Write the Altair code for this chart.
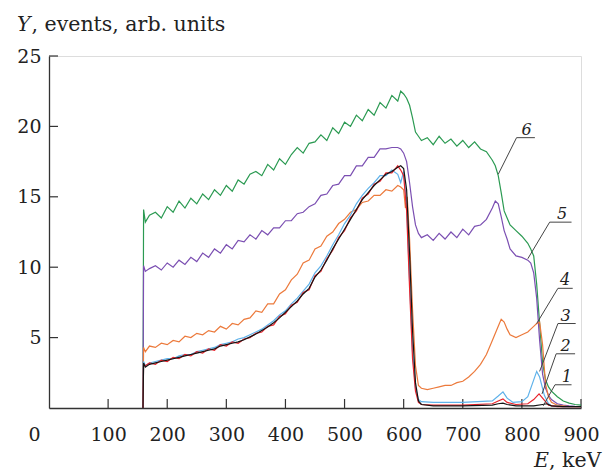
import altair as alt
import pandas as pd

# ---------------- data ----------------
E_MAIN = [159, 160, 163, 170, 180, 190, 200, 210, 220, 230, 240, 250, 260, 270, 280, 290,
          300, 310, 320, 330, 340, 350, 360, 370, 380, 390, 400, 410, 420, 430, 440, 450,
          460, 470, 480, 490, 500, 510, 520, 530, 540, 550, 560, 570, 580, 590, 595, 600]

E_TAIL_56 = [605, 610, 615, 620, 625, 630, 640, 650, 660, 670, 680, 690, 700, 710, 720, 730,
             740, 750, 755, 760, 765, 770, 775, 780, 790, 800, 810, 815, 820, 825, 830, 835,
             840, 845, 850, 860, 870, 880, 890, 900]

y6 = [0, 14.1, 13.2, 13.7, 13.9, 13.5, 14.3, 13.9, 14.7, 14.2,
      14.9, 14.5, 15.2, 14.8, 15.5, 15.1, 15.8, 15.4, 16.2, 15.9,
      16.6, 16.8, 16.5, 17.3, 16.9, 17.7, 17.3, 18.0, 18.5, 18.1,
      18.8, 18.9, 19.4, 19.0, 19.9, 19.5, 20.3, 20.0, 20.8, 20.4,
      21.2, 20.8, 21.7, 21.3, 22.2, 21.8, 22.5, 22.3,
      22.0, 21.5, 20.6, 19.6, 19.3, 19.0, 19.2, 18.7, 19.3, 18.8,
      19.1, 18.6, 19.0, 18.5, 18.9, 18.4, 18.2, 17.6, 17.2, 16.5,
      15.3, 14.0, 13.5, 13.0, 12.6, 12.2, 11.7, 11.3, 10.8, 8.8,
      6.0, 3.2, 2.0, 1.5, 1.2, 0.8, 0.5, 0.35, 0.25, 0.2]
e6 = E_MAIN + E_TAIL_56

y5 = [0, 10.1, 9.7, 9.9, 10.1, 9.8, 10.3, 10.0, 10.5, 10.2,
      10.7, 10.4, 11.0, 10.7, 11.3, 11.0, 11.6, 11.3, 11.9, 11.8,
      12.3, 12.0, 12.6, 12.3, 12.8, 12.8, 13.3, 13.3, 13.8, 13.9,
      14.3, 14.5, 15.1, 15.2, 15.8, 15.9, 16.5, 16.5, 17.2, 17.2,
      17.8, 17.8, 18.4, 18.4, 18.5, 18.5, 18.4, 18.1,
      17.5, 16.0, 14.3, 13.0, 12.4, 12.1, 12.3, 11.9, 12.4, 12.0,
      12.5, 12.1, 12.7, 12.3, 12.9, 13.0, 13.4, 14.2, 14.7, 14.5,
      13.6, 12.6, 12.0, 11.3, 10.8, 10.7, 10.5, 10.3, 9.6, 7.8,
      4.8, 2.4, 1.4, 0.9, 0.6, 0.3, 0.2, 0.15, 0.12, 0.1]
e5 = E_MAIN + E_TAIL_56

y4 = [0, 4.3, 4.0, 4.4, 4.3, 4.6, 4.5, 4.8, 4.7, 5.1,
      5.0, 5.3, 5.2, 5.5, 5.4, 5.8, 5.6, 6.0, 5.9, 6.3,
      6.4, 6.9, 6.8, 7.4, 7.4, 8.1, 8.4, 9.1, 9.5, 10.3,
      10.5, 11.3, 11.5, 12.2, 12.5, 13.1, 13.4, 13.9, 14.1, 14.6,
      14.7, 15.1, 15.1, 15.5, 15.4, 15.8, 15.7, 15.5,
      14.2, 15.0, 12.0, 7.0, 3.0, 1.6, 1.4, 1.3, 1.4, 1.5,
      1.6, 1.6, 1.8, 1.9, 2.2, 2.6, 3.1, 3.8, 4.8, 5.8,
      6.3, 6.1, 5.6, 5.2, 5.0, 5.2, 5.4, 5.6, 5.8, 6.0,
      6.1, 4.5, 1.7, 0.8, 0.4, 0.2, 0.1, 0.1]
e4 = E_MAIN + [603, 606, 610, 615, 620, 625, 630, 640, 650, 660, 670, 680, 690, 700, 710,
               720, 730, 740, 750, 760, 765, 770, 775, 780, 790, 800, 810, 815, 820, 825,
               830, 835, 840, 845, 850, 860, 880, 900]

y3 = [0, 3.3, 3.0, 3.2, 3.3, 3.4, 3.5, 3.5, 3.7, 3.8,
      3.8, 4.0, 4.1, 4.2, 4.3, 4.5, 4.6, 4.7, 4.9, 5.0,
      5.2, 5.4, 5.6, 5.9, 6.2, 6.6, 6.9, 7.4, 7.8, 8.3,
      8.8, 9.6, 10.1, 10.8, 11.6, 12.3, 13.1, 13.7, 14.5, 15.1,
      15.6, 16.0, 16.5, 16.5, 16.9, 16.6, 16.0, 16.8,
      14.5, 9.0, 4.0, 1.4, 0.6, 0.45, 0.4, 0.4, 0.5, 0.85,
      1.15, 0.7, 0.4, 0.45, 0.8, 2.0, 2.6, 2.2, 0.9, 0.3,
      0.15, 0.1, 0.1]
e3 = E_MAIN + [605, 610, 615, 620, 625, 630, 650, 700, 750, 760, 768, 775, 785, 800, 810,
               820, 825, 830, 838, 845, 850, 870, 900]

y2 = [0, 3.1, 3.0, 3.2, 3.1, 3.4, 3.3, 3.6, 3.5, 3.8,
      3.7, 4.0, 3.9, 4.2, 4.1, 4.5, 4.4, 4.7, 4.6, 4.9,
      5.0, 5.3, 5.4, 5.8, 5.9, 6.5, 6.7, 7.3, 7.5, 8.2,
      8.4, 9.4, 9.7, 10.6, 11.2, 12.1, 12.6, 13.5, 14.0, 14.9,
      15.2, 15.9, 16.1, 16.7, 16.7, 17.2, 16.9, 16.5,
      14.0, 8.5, 3.5, 1.2, 0.4, 0.25, 0.2, 0.2, 0.3, 0.5,
      0.65, 0.4, 0.25, 0.3, 0.6, 1.0, 0.7, 0.2, 0.1, 0.1]
e2 = E_MAIN + [605, 610, 615, 620, 625, 630, 650, 700, 750, 760, 768, 775, 790, 810, 820,
               829, 835, 845, 860, 900]

y1 = [0, 3.2, 2.9, 3.1, 3.2, 3.3, 3.4, 3.5, 3.6, 3.7,
      3.8, 3.9, 4.0, 4.1, 4.2, 4.4, 4.5, 4.6, 4.7, 4.85,
      5.05, 5.25, 5.5, 5.75, 6.05, 6.4, 6.8, 7.2, 7.6, 8.1,
      8.5, 9.3, 9.8, 10.5, 11.3, 12.0, 12.7, 13.4, 14.1, 14.8,
      15.3, 15.8, 16.2, 16.6, 16.8, 17.1, 17.2, 17.0,
      15.5, 11.0, 5.5, 1.8, 0.5, 0.25, 0.15, 0.15, 0.2, 0.3,
      0.35, 0.25, 0.15, 0.15, 0.25, 0.3, 0.15, 0.1, 0.1]
e1 = E_MAIN + [605, 610, 615, 620, 625, 630, 650, 700, 750, 760, 768, 775, 790, 820, 835,
               842, 850, 870, 900]

SERIES = [("6", e6, y6, "#2b9a52"), ("5", e5, y5, "#7b4fb2"), ("4", e4, y4, "#ec7a3c"),
          ("3", e3, y3, "#5fb2ea"), ("2", e2, y2, "#e8232b"), ("1", e1, y1, "#141414")]

LEADERS = {
    "6": ([760, 791, 822], [16.6, 19.2, 19.2], 808),
    "5": ([810, 847, 884], [10.6, 13.2, 13.2], 868),
    "4": ([825, 861, 886], [6.0, 8.5, 8.5], 873),
    "3": ([830, 861, 891], [2.6, 6.0, 6.0], 874),
    "2": ([834, 858, 890], [1.0, 3.85, 3.85], 874),
    "1": ([836, 856, 884], [0.15, 1.65, 1.65], 876),
}

X_TICKS = [0, 100, 200, 300, 400, 500, 600, 700, 800, 900]
Y_TICKS = [5, 10, 15, 20, 25]

W, H = 532, 352
FONT = "DejaVu Serif"
TICK_FS = 19
TITLE_FS = 20.5

xs = alt.Scale(domain=[0, 900], nice=False, zero=False)
ys = alt.Scale(domain=[0, 25], nice=False)

layers = []

axis_df = pd.DataFrame({"E": [0, 900], "Y": [0, 25]})
axes = alt.Chart(axis_df).mark_point(opacity=0).encode(
    x=alt.X("E:Q", scale=xs, axis=alt.Axis(
        values=X_TICKS, title=None, ticks=False, grid=False, domainColor="#333",
        domainWidth=1.3, labelFont=FONT, labelFontSize=TICK_FS, labelColor="#222",
        labelPadding=17, labelFlush=False, labelOverlap=False,
        labelOffset={"condition": {"test": "datum.value == 0", "value": -15}, "value": 0})),
    y=alt.Y("Y:Q", scale=ys, axis=alt.Axis(
        values=Y_TICKS, title=None, ticks=False, grid=False, domainColor="#333",
        domainWidth=1.3, labelFont=FONT, labelFontSize=TICK_FS, labelColor="#222",
        labelPadding=8, labelFlush=False, labelOverlap=False)),
)
layers.append(axes)

xt = pd.DataFrame({"E": X_TICKS[1:]})
layers.append(alt.Chart(xt).mark_rule(color="#333", strokeWidth=1.2).encode(
    x=alt.X("E:Q", scale=xs), y=alt.value(H - 9), y2=alt.value(H)))
yt = pd.DataFrame({"Y": Y_TICKS})
layers.append(alt.Chart(yt).mark_rule(color="#333", strokeWidth=1.2).encode(
    y=alt.Y("Y:Q", scale=ys), x=alt.value(0), x2=alt.value(9)))

for name, e, y, col in SERIES:
    df = pd.DataFrame({"E": e, "Y": y, "i": range(len(e))})
    layers.append(alt.Chart(df).mark_line(color=col, strokeWidth=1.2, clip=True).encode(
        x=alt.X("E:Q", scale=xs), y=alt.Y("Y:Q", scale=ys), order="i:Q"))

for name, (le, ly, tx) in LEADERS.items():
    df = pd.DataFrame({"E": le, "Y": ly, "i": range(len(le))})
    layers.append(alt.Chart(df).mark_line(color="#444", strokeWidth=1).encode(
        x=alt.X("E:Q", scale=xs), y=alt.Y("Y:Q", scale=ys), order="i:Q"))
    tdf = pd.DataFrame({"E": [tx], "Y": [ly[-1]], "t": [name]})
    layers.append(alt.Chart(tdf).mark_text(font=FONT, fontSize=16, fontStyle="italic",
                                           baseline="alphabetic", dy=-3, color="#222").encode(
        x=alt.X("E:Q", scale=xs), y=alt.Y("Y:Q", scale=ys), text="t:N"))

one = pd.DataFrame({"a": [0]})
def txt(s, x, y, italic=False, align="left"):
    kw = dict(font=FONT, fontSize=TITLE_FS, baseline="alphabetic", align=align, color="#222", text=s)
    if italic:
        kw["fontStyle"] = "italic"
    return alt.Chart(one).mark_text(**kw).encode(x=alt.value(x), y=alt.value(y))

layers.append(txt("Y", -32, -25, italic=True))
layers.append(txt(", events, arb. units", -17.5, -25))
layers.append(txt("E", 500, 411, italic=True, align="right"))
layers.append(txt(", keV", 500, 411))

chart = alt.layer(*layers).properties(
    width=W, height=H,
    autosize=alt.AutoSizeParams(type="none"),
    padding={"left": 41, "top": 48, "right": 23, "bottom": 64},
).configure_view(stroke=None).configure(background="white")

chart.save("out.html", embed_options={"renderer": "svg", "actions": False})
